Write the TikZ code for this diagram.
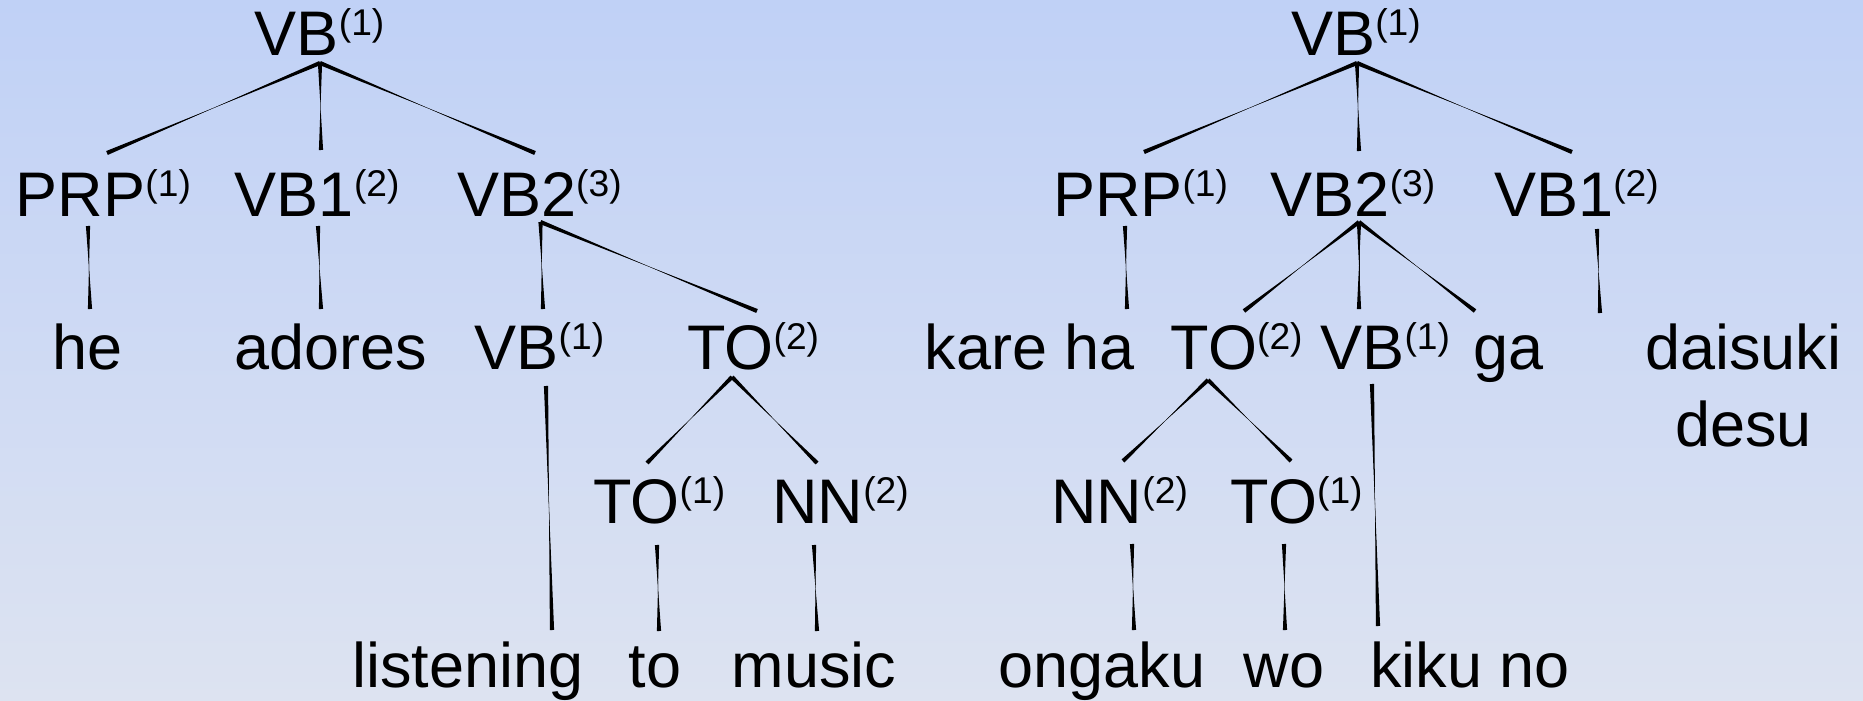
\documentclass[tikz,border=0pt]{standalone}
\usepackage{fontspec}
\setmainfont{Liberation Sans}
\usetikzlibrary{calc}

\definecolor{bgtop}{RGB}{192,209,246}
\definecolor{bgbottom}{RGB}{221,227,241}

% label fonts: category symbol and its raised alignment index
\newcommand\lblfont{\fontsize{31.5pt}{36pt}\selectfont}
\newcommand\idx[1]{\raisebox{10pt}{\fontsize{18.6pt}{20pt}\selectfont(#1)}}

% tree branch drawn as a double wedge: full width at both ends, thin in the middle
\newcommand\treebranch[2]{%
  \fill ($(#1)!1.05pt!90:(#2)$) -- ($(#1)!0.5!(#2)$) -- ($(#2)!1.05pt!-90:(#1)$)
     -- ($(#2)!1.05pt!90:(#1)$) -- ($(#1)!0.5!(#2)$) -- ($(#1)!1.05pt!-90:(#2)$) -- cycle;
  \draw[line width=0.15pt] (#1) -- (#2);}

\tikzset{tx/.style={inner sep=0pt, outer sep=0pt, anchor=base, font=\lblfont, text=black}}

\begin{document}
\begin{tikzpicture}[x=0.5pt, y=-0.5pt]
\useasboundingbox (0,0) rectangle (1863,701);
\shade[top color=bgtop, bottom color=bgbottom] (0,0) rectangle (1863,701);

% ---------- English tree ----------
\node[tx] (eRoot) at (319.6,56) {VB\idx{1}};
\node[tx] (ePRP)  at (103.4,216) {PRP\idx{1}};
\node[tx] (eVBa)  at (317.2,216) {VB1\idx{2}};
\node[tx] (eVBb)  at (539.4,216) {VB2\idx{3}};
\node[tx] (he)    at (87.3,369) {he};
\node[tx] (adores) at (330.9,369) {adores};
\node[tx] (eVB)   at (539.4,369) {VB\idx{1}};
\node[tx] (eTO)   at (753.2,369) {TO\idx{2}};
\node[tx] (eTOa)  at (659.3,523) {TO\idx{1}};
\node[tx] (eNN)   at (840.5,523) {NN\idx{2}};
\node[tx] (listening) at (468,687) {listening};
\node[tx] (to)    at (655.2,687) {to};
\node[tx] (music) at (813.8,687) {music};

\coordinate (eR)   at (320,63);
\coordinate (eR1)  at (107,153);
\coordinate (eR2)  at (321,150);
\coordinate (eR3)  at (535,153);
\coordinate (eP1)  at (88,226);   \coordinate (eP2) at (90,309);
\coordinate (eA1)  at (318,226);  \coordinate (eA2) at (321,309);
\coordinate (eB)   at (540.5,222);
\coordinate (eB1)  at (543,309);  \coordinate (eB2) at (757,311);
\coordinate (eV1)  at (546,386);  \coordinate (eV2) at (552,630);
\coordinate (eT)   at (732,377);
\coordinate (eT1)  at (647,463);  \coordinate (eT2) at (817,463);
\coordinate (eO1)  at (657,545);  \coordinate (eO2) at (659,631);
\coordinate (eN1)  at (814,545);  \coordinate (eN2) at (817,631);

\treebranch{eR}{eR1}
\treebranch{eR}{eR2}
\treebranch{eR}{eR3}
\treebranch{eP1}{eP2}
\treebranch{eA1}{eA2}
\treebranch{eB}{eB1}
\treebranch{eB}{eB2}
\treebranch{eV1}{eV2}
\treebranch{eT}{eT1}
\treebranch{eT}{eT2}
\treebranch{eO1}{eO2}
\treebranch{eN1}{eN2}

% ---------- Japanese tree ----------
\node[tx] (jRoot) at (1356,56) {VB\idx{1}};
\node[tx] (jPRP)  at (1140.5,216) {PRP\idx{1}};
\node[tx] (jVBb)  at (1353,216) {VB2\idx{3}};
\node[tx] (jVBa)  at (1576.5,216) {VB1\idx{2}};
\node[tx] (kareha) at (1030,369) {kare ha};
\node[tx] (jTO)   at (1236.7,369) {TO\idx{2}};
\node[tx] (jVB)   at (1385.2,369) {VB\idx{1}};
\node[tx] (ga)    at (1508.8,369) {ga};
\node[tx] (daisuki) at (1743.4,369) {daisuki};
\node[tx] (desu)  at (1743.4,446) {desu};
\node[tx] (jNN)   at (1119.7,523) {NN\idx{2}};
\node[tx] (jTOa)  at (1296.7,523) {TO\idx{1}};
\node[tx] (ongaku) at (1101.9,687) {ongaku};
\node[tx] (wo)    at (1284.2,687) {wo};
\node[tx] (kikuno) at (1470.2,687) {kiku no};

\coordinate (jR)   at (1357,63);
\coordinate (jR1)  at (1144,152);
\coordinate (jR2)  at (1359,151);
\coordinate (jR3)  at (1572,152);
\coordinate (jP1)  at (1125,226); \coordinate (jP2) at (1127,309);
\coordinate (jB)   at (1359,222);
\coordinate (jB1)  at (1244,311); \coordinate (jB2) at (1359,309); \coordinate (jB3) at (1475,311);
\coordinate (jA1)  at (1597,229); \coordinate (jA2) at (1600,313);
\coordinate (jT)   at (1208,380);
\coordinate (jT1)  at (1123,461); \coordinate (jT2) at (1291,461);
\coordinate (jV1)  at (1372,384); \coordinate (jV2) at (1378,626);
\coordinate (jN1)  at (1132,544); \coordinate (jN2) at (1134,630);
\coordinate (jO1)  at (1284,544); \coordinate (jO2) at (1285,630);

\treebranch{jR}{jR1}
\treebranch{jR}{jR2}
\treebranch{jR}{jR3}
\treebranch{jP1}{jP2}
\treebranch{jB}{jB1}
\treebranch{jB}{jB2}
\treebranch{jB}{jB3}
\treebranch{jA1}{jA2}
\treebranch{jT}{jT1}
\treebranch{jT}{jT2}
\treebranch{jV1}{jV2}
\treebranch{jN1}{jN2}
\treebranch{jO1}{jO2}
\end{tikzpicture}
\end{document}
